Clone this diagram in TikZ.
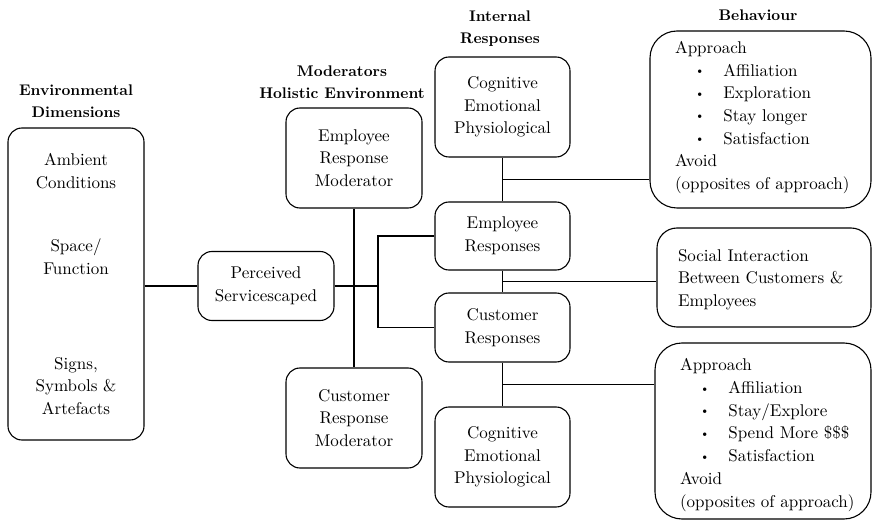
\documentclass[tikz,border=0pt]{standalone}
\usepackage{fontspec}
\setmainfont{lmroman10-regular.otf}[BoldFont=lmroman10-bold.otf]
\usetikzlibrary{positioning,calc}

\newcommand{\bodyfont}{\fontsize{17}{22.7}\selectfont}
\newcommand{\headfont}{\fontsize{15.4}{22}\selectfont\bfseries}
\newcommand{\bitem}[1]{\hspace*{20pt}\raisebox{1.5pt}{\fontsize{12}{12}\selectfont\textbullet}\hspace*{19pt}#1}

\begin{document}
\begin{tikzpicture}[x=1pt, y=-1pt, line width=1.1pt,
  head/.style={align=center, font=\headfont, inner sep=0pt},
  box/.style={draw, rounded corners=14pt, align=center, font=\bodyfont, inner sep=0pt},
  listbox/.style={draw, rounded corners=27pt, inner sep=0pt},
  txt/.style={align=left, font=\bodyfont, inner sep=0pt}]
  \useasboundingbox (0,0) rectangle (873,521);

  % column headings
  \node[head] (hEnv) at (76,101) {Environmental\\Dimensions};
  \node[head] (hMod) at (342,82) {Moderators\\Holistic Environment};
  \node[head] (hInt) at (500,29) {Internal\\Responses};
  \node[head] (hBeh) at (758,15) {Behaviour};

  % environmental dimensions
  \node[box, minimum width=136pt, minimum height=312pt] (env) at (76,284) {};
  \node[box, draw=none] (envA) at (76,171) {Ambient\\Conditions};
  \node[box, draw=none] (envB) at (76,257) {Space/\\Function};
  \node[box, draw=none] (envC) at (76,386) {Signs,\\Symbols \&\\Artefacts};

  % servicescape and moderators
  \node[box, minimum width=136pt, minimum height=69pt] (perc) at (266,286) {Perceived\\Servicescaped};
  \node[box, minimum width=136pt, minimum height=100pt] (empmod) at (354,158) {Employee\\Response\\Moderator};
  \node[box, minimum width=136pt, minimum height=100pt] (cusmod) at (354,418) {Customer\\Response\\Moderator};

  % internal responses
  \node[box, minimum width=135pt, minimum height=100pt] (cogtop) at (502.5,107) {Cognitive\\Emotional\\Physiological};
  \node[box, minimum width=135pt, minimum height=68pt] (empresp) at (502.5,236) {Employee\\Responses};
  \node[box, minimum width=135pt, minimum height=69pt] (cusresp) at (502.5,327.5) {Customer\\Responses};
  \node[box, minimum width=135pt, minimum height=100pt] (cogbot) at (502.5,457) {Cognitive\\Emotional\\Physiological};

  % behaviour
  \node[listbox, minimum width=221pt, minimum height=177pt] (behtop) at (760.5,119.5) {};
  \node[txt, anchor=west, xshift=25pt, yshift=2pt] (behtopT) at (behtop.west)
    {Approach\\\bitem{Affiliation}\\\bitem{Exploration}\\\bitem{Stay longer}\\\bitem{Satisfaction}\\Avoid\\(opposites of approach)};
  \node[listbox, rounded corners=20pt, minimum width=214pt, minimum height=99pt] (social) at (764,277.5) {};
  \node[txt, anchor=west, xshift=21pt, yshift=-2pt] (socialT) at (social.west)
    {Social Interaction\\Between Customers \&\\Employees};
  \node[listbox, minimum width=216pt, minimum height=176pt] (behbot) at (763,431) {};
  \node[txt, anchor=west, xshift=25pt, yshift=-4pt] (behbotT) at (behbot.west)
    {Approach\\\bitem{Affiliation}\\\bitem{Stay/Explore}\\\bitem{Spend More \$\$\$}\\\bitem{Satisfaction}\\Avoid\\(opposites of approach)};

  % connectors
  \draw (perc.west -| env.east) -- (perc.west);
  \draw (empmod) -- (cusmod);
  \coordinate (jn) at (378,286);
  \draw (perc.east) -- (jn);
  \draw (empresp.west) -| (jn) |- (cusresp.west);
  \draw (cogtop) -- coordinate (m1) (empresp);
  \draw (empresp) -- coordinate (m2) (cusresp);
  \draw (cusresp) -- coordinate (m3) (cogbot);
  \draw (m1) -- (m1 -| behtop.west);
  \draw (m2) -- (m2 -| social.west);
  \draw (m3) -- (m3 -| behbot.west);
\end{tikzpicture}
\end{document}
